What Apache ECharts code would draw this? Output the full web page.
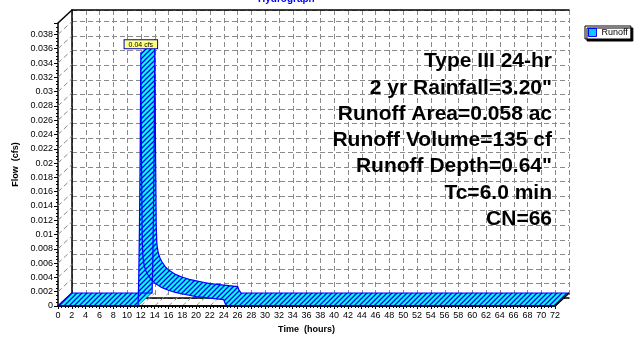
<!DOCTYPE html>
<html>
<head>
<meta charset="utf-8">
<script src="https://cdn.jsdelivr.net/npm/echarts@6/dist/echarts.min.js"></script>
<style>
  html, body { margin: 0; padding: 0; background: #fff; }
  #chart { width: 643px; height: 339px; }
</style>
</head>
<body>
<div id="chart"></div>
<script>
// hydrograph: time (hours) / flow (cfs)
const timeHr  = [0, 11.6, 11.7, 11.8, 11.9, 12.0, 12.1, 12.2, 12.3, 12.5, 12.75, 13.0, 13.5, 14.0, 15.0, 16.0, 17.0, 18.0, 19.0, 20.0, 21.0, 22.0, 23.0, 24.0, 24.2, 24.5, 72];
const flowCfs = [0, 0, 0.004, 0.011, 0.021, 0.0355, 0.020, 0.0095, 0.0068, 0.0056, 0.0049, 0.0044, 0.0037, 0.0032, 0.0026, 0.0022, 0.0019, 0.0017, 0.0015, 0.0013, 0.0012, 0.0011, 0.0010, 0.0009, 0.0004, 0, 0];

const notes = ['Type III 24-hr', '2 yr Rainfall=3.20"', 'Runoff Area=0.058 ac', 'Runoff Volume=135 cf', 'Runoff Depth=0.64"', 'Tc=6.0 min', 'CN=66'];

const xMax = 72, xStep = 2;
const yMax = 0.0396, yStep = 0.002;

const DX = 14, DY = 13; // depth of the 3d box
const FONT = '"Liberation Sans", Arial, sans-serif';
const DASH = '#8a8a8a';

function hatchCanvas() {
    const s = 5;
    const c = document.createElement('canvas');
    c.width = s; c.height = s;
    const g = c.getContext('2d');
    g.fillStyle = '#00ffff';
    g.fillRect(0, 0, s, s);
    g.strokeStyle = '#0000e0';
    g.lineWidth = 1.3;
    g.beginPath();
    g.moveTo(-1, s + 1); g.lineTo(s + 1, -1);
    g.moveTo(-1, 1); g.lineTo(1, -1);
    g.moveTo(s - 1, s + 1); g.lineTo(s + 1, s - 1);
    g.stroke();
    return c;
}
const hatch = { image: hatchCanvas(), repeat: 'repeat' };

// side wall + floor diagonals
function renderFrame(params, api) {
    const kids = [];
    const dashed = { stroke: DASH, lineWidth: 1, lineDash: [5, 3] };
    for (let v = 0; v <= yMax + 1e-9; v += yStep) {
        const p = api.coord([0, v]);
        kids.push({ type: 'line', shape: { x1: p[0], y1: p[1], x2: p[0] + DX, y2: p[1] - DY }, style: dashed });
    }
    for (let t = 0; t <= xMax; t += xStep) {
        const p = api.coord([t, 0]);
        kids.push({ type: 'line', shape: { x1: p[0], y1: p[1], x2: p[0] + DX, y2: p[1] - DY }, style: dashed });
    }
    const solid = { stroke: '#000', lineWidth: 1.5 };
    [[0, yMax], [0, 0], [xMax, 0]].forEach(c => {
        const p = api.coord(c);
        kids.push({ type: 'line', shape: { x1: p[0], y1: p[1], x2: p[0] + DX, y2: p[1] - DY }, style: solid });
    });
    return { type: 'group', children: kids };
}

// 3d ribbon of the hydrograph
function renderRibbon(params, api) {
    if (params.dataIndex !== 0) return null;
    const front = timeHr.map((t, i) => api.coord([t, flowCfs[i]]));
    const back = front.map(p => [p[0] + DX, p[1] - DY]);
    let d = '';
    for (let i = 0; i < front.length - 1; i++) {
        let q = [front[i], front[i + 1], back[i + 1], back[i]];
        let a = 0;
        for (let k = 0; k < 4; k++) {
            const p = q[k], n = q[(k + 1) % 4];
            a += p[0] * n[1] - n[0] * p[1];
        }
        if (a < 0) q = q.slice().reverse();
        d += 'M' + q.map(p => p[0].toFixed(2) + ' ' + p[1].toFixed(2)).join('L') + 'Z';
    }
    const n = front.length - 1;
    const edge = { stroke: '#0000ff', lineWidth: 1.2, fill: null };
    const o0 = api.coord([0, 0]), o1 = api.coord([xMax, 0]);

    let iPeak = 0;
    flowCfs.forEach((v, i) => { if (v > flowCfs[iPeak]) iPeak = i; });
    const pk = front[iPeak];

    return {
        type: 'group',
        children: [
            { type: 'path', shape: { pathData: d }, style: { fill: hatch, stroke: null } },
            { type: 'polyline', shape: { points: back }, style: edge },
            { type: 'polyline', shape: { points: front }, style: edge },
            { type: 'line', shape: { x1: front[0][0], y1: front[0][1], x2: back[0][0], y2: back[0][1] }, style: edge },
            { type: 'line', shape: { x1: front[n][0], y1: front[n][1], x2: back[n][0], y2: back[n][1] }, style: { stroke: '#000', lineWidth: 1.2 } },
            { type: 'line', shape: { x1: o0[0], y1: o0[1], x2: o1[0], y2: o1[1] }, style: { stroke: '#000', lineWidth: 1.5 } },
            {
                type: 'text', x: pk[0], y: pk[1] - 4,
                style: {
                    text: flowCfs[iPeak].toFixed(2) + ' cfs',
                    font: '7px ' + FONT, fill: '#000',
                    align: 'center', verticalAlign: 'bottom',
                    backgroundColor: '#ffff80', borderColor: '#0000cc', borderWidth: 1,
                    padding: [1, 4, 0, 4]
                }
            }
        ]
    };
}

const chart = echarts.init(document.getElementById('chart'));

const option = {
    animation: false,
    backgroundColor: '#fff',
    legend: {
        data: [{ name: 'Runoff', icon: 'rect', itemStyle: { color: '#00ccff', borderColor: '#0000ff', borderWidth: 1 } }],
        left: 585, top: 26,
        itemWidth: 8, itemHeight: 8,
        padding: [2, 3, 2, 3],
        backgroundColor: '#fff', borderColor: '#000', borderWidth: 1,
        shadowColor: '#000', shadowOffsetX: 2, shadowOffsetY: 2, shadowBlur: 0,
        selectedMode: false,
        textStyle: { fontSize: 9, color: '#000', fontFamily: FONT }
    },
    grid: [
        { left: 58, right: 88, top: 23, bottom: 28 },
        { left: 72, right: 74, top: 10, bottom: 41 }
    ],
    xAxis: [
        {
            gridIndex: 0, type: 'value', min: 0, max: xMax, interval: xStep,
            axisLine: { show: true, lineStyle: { color: '#000', width: 1.5 } },
            axisTick: { show: true, length: 3, lineStyle: { color: '#000' } },
            minorTick: { show: true, splitNumber: 4, length: 2, lineStyle: { color: '#000' } },
            axisLabel: { fontSize: 9, color: '#000', margin: 5, fontFamily: FONT },
            splitLine: { show: false },
            name: 'Time  (hours)', nameLocation: 'middle', nameGap: 19,
            nameTextStyle: { fontWeight: 'bold', fontSize: 9, color: '#000', fontFamily: FONT }
        },
        {
            gridIndex: 1, type: 'value', min: 0, max: xMax, interval: xStep,
            axisLine: { show: true, lineStyle: { color: '#000', width: 1.5 } },
            axisTick: { show: false }, axisLabel: { show: false },
            splitLine: { show: true, lineStyle: { color: DASH, type: [5, 3] } }
        },
        {
            gridIndex: 1, type: 'value', position: 'top', min: 0, max: xMax, interval: xStep,
            axisLine: { show: true, lineStyle: { color: '#000', width: 1.5 } },
            axisTick: { show: false }, axisLabel: { show: false }, splitLine: { show: false }
        }
    ],
    yAxis: [
        {
            gridIndex: 0, type: 'value', min: 0, max: yMax, interval: yStep,
            axisLine: { show: true, lineStyle: { color: '#000', width: 1.5 } },
            axisTick: { show: true, length: 4, lineStyle: { color: '#000' } },
            minorTick: { show: true, splitNumber: 4, length: 2, lineStyle: { color: '#000' } },
            axisLabel: { fontSize: 9, color: '#000', margin: 5, fontFamily: FONT, showMaxLabel: false },
            splitLine: { show: false },
            name: 'Flow  (cfs)', nameLocation: 'middle', nameGap: 38, nameRotate: 90,
            nameTextStyle: { fontWeight: 'bold', fontSize: 9, color: '#000', fontFamily: FONT }
        },
        {
            gridIndex: 1, type: 'value', min: 0, max: yMax, interval: yStep,
            axisLine: { show: true, lineStyle: { color: '#000', width: 1.5 } },
            axisTick: { show: false }, axisLabel: { show: false },
            splitLine: { show: true, lineStyle: { color: DASH, type: [5, 3] } }
        }
    ],
    graphic: [
        { type: 'text', left: 258, top: -6, style: { text: 'Hydrograph', fill: '#0000ff', font: 'bold 10px ' + FONT } }
    ].concat(notes.map((s, i) => ({
        type: 'text', right: 91, top: 51 + i * 26.3, z: 10,
        style: { text: s, fill: '#000', font: 'bold 21px ' + FONT }
    }))),
    series: [
        {
            type: 'custom', name: 'frame', xAxisIndex: 0, yAxisIndex: 0, z: 1,
            data: [[0, 0]], renderItem: renderFrame, silent: true
        },
        {
            type: 'custom', name: 'Runoff', xAxisIndex: 0, yAxisIndex: 0, z: 3,
            itemStyle: { color: '#00ccff' },
            encode: { x: 0, y: 1 },
            data: timeHr.map((t, i) => [t, flowCfs[i]]),
            renderItem: renderRibbon
        }
    ]
};

chart.setOption(option);
</script>
</body>
</html>
